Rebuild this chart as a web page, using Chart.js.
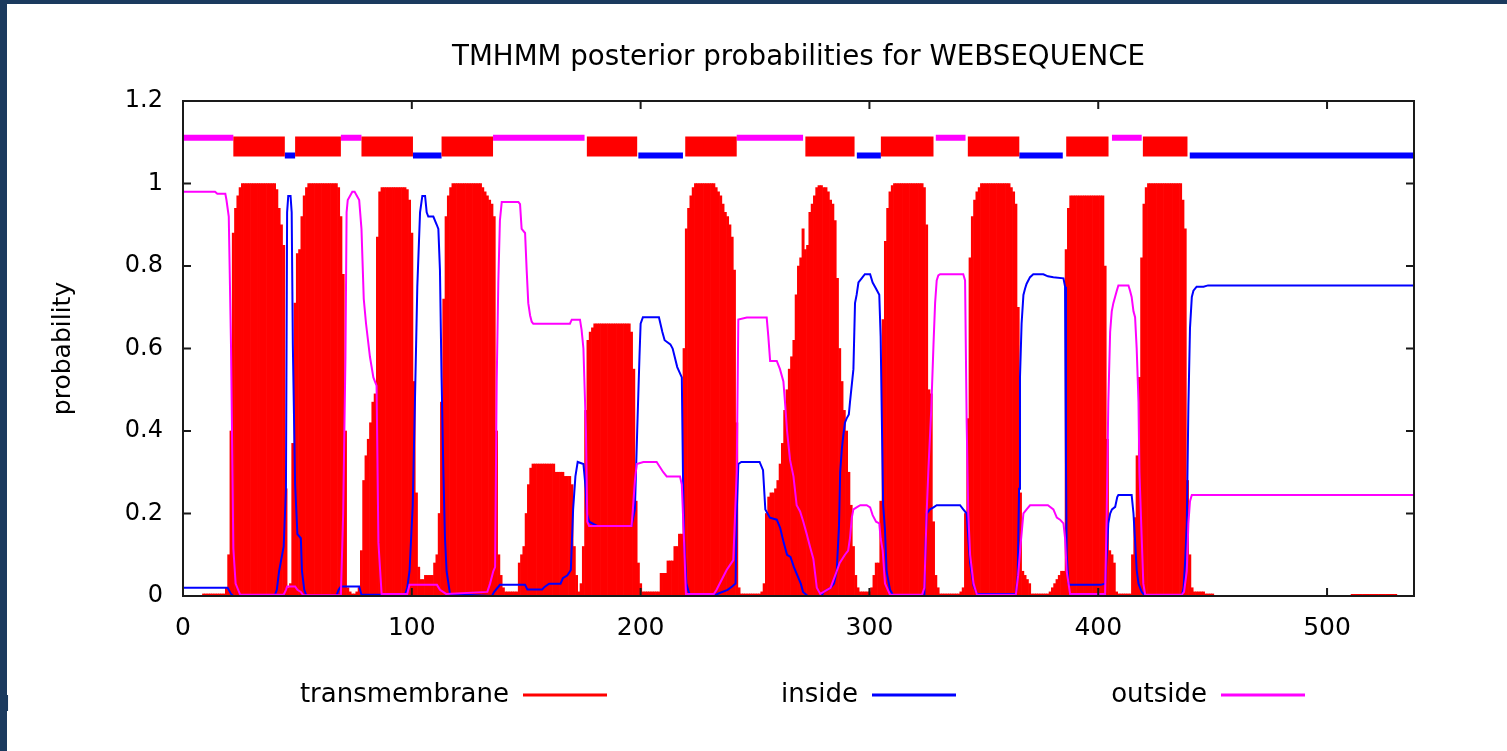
<!DOCTYPE html>
<html lang="en">
<head>
    <meta charset="UTF-8">
    <title>TMHMM posterior probabilities for WEBSEQUENCE</title>
    <script src="https://cdn.jsdelivr.net/npm/chart.js"></script>
    <style>
        html, body { margin: 0; padding: 0; background: #fff; }
        body { width: 1507px; height: 751px; position: relative; overflow: hidden; }
        #wrap { position: absolute; left: 0; top: 0; width: 1507px; height: 751px; }
        .edge { position: absolute; background: #1b3a5e; }
        .stray { position: absolute; left: 4px; top: 691px; font: 22px "DejaVu Sans", sans-serif; color: #1b3a5e; }
    </style>
</head>
<body>
    <div id="wrap"><canvas id="tmhmmChart" width="1507" height="751"></canvas></div>
    <div class="edge" style="left:0;top:0;width:7px;height:751px"></div>
    <div class="edge" style="left:0;top:0;width:1507px;height:4px"></div>
    <span class="stray">l</span>
    <script>
        // posterior probability of transmembrane, one value per residue (1..538)
        const tmProb = [
            0,0,0,0,0,0,0,0,.005,.005,.005,.005,.005,.005,.005,.005,.005,.005,.02,.1,
            .4,.88,.94,.97,.99,1,1,1,1,1,1,1,1,1,1,1,1,1,1,1,
            .985,.94,.9,.85,.26,.02,.03,.37,.71,.83,.84,.92,.97,.99,1,1,1,1,1,1,
            1,1,1,1,1,1,1,.99,.92,.78,.4,.02,.01,.005,.005,.01,.02,.11,.28,.34,
            .38,.42,.47,.49,.87,.98,.99,.99,.99,.99,.99,.99,.99,.99,.99,.99,.99,.985,.96,.88,
            .52,.25,.07,.04,.04,.05,.05,.05,.05,.08,.1,.2,.47,.72,.92,.97,.99,1,1,1,
            1,1,1,1,1,1,1,1,1,1,.99,.98,.97,.96,.95,.92,.4,.1,.05,.02,
            .01,.01,.01,.01,.01,.01,.08,.1,.12,.2,.27,.31,.32,.32,.32,.32,.32,.32,.32,.32,
            .32,.32,.3,.3,.3,.3,.29,.29,.29,.27,.12,.05,.01,.03,.12,.45,.62,.64,.65,.66,
            .66,.66,.66,.66,.66,.66,.66,.66,.66,.66,.66,.66,.66,.66,.66,.64,.55,.23,.08,.03,
            .01,.01,.01,.01,.01,.01,.01,.01,.055,.055,.055,.085,.085,.085,.12,.12,.15,.15,.6,.89,
            .94,.97,.99,1,1,1,1,1,1,1,1,1,.99,.98,.97,.95,.93,.92,.9,.87,
            .79,.42,.02,.005,.005,.005,.005,.005,.005,.005,.005,.005,.01,.03,.2,.24,.25,.25,.26,.28,
            .32,.37,.45,.5,.55,.58,.62,.73,.8,.82,.89,.84,.85,.93,.95,.97,.99,.995,.995,.99,
            .99,.98,.96,.95,.91,.77,.6,.52,.45,.4,.3,.22,.12,.05,.02,.01,.01,.01,.01,.01,
            .02,.05,.08,.08,.23,.67,.86,.94,.98,.995,1,1,1,1,1,1,1,1,1,1,
            1,1,1,.99,.9,.5,.49,.18,.05,.02,.005,.005,.005,.005,.005,.005,.005,.005,.005,.01,
            .02,.2,.43,.82,.92,.96,.98,.99,1,1,1,1,1,1,1,1,1,1,1,1,
            1,.99,.98,.95,.7,.25,.06,.05,.04,.03,.005,.005,.005,.005,.005,.005,.005,.005,.01,.02,
            .03,.04,.05,.06,.06,.84,.94,.97,.97,.97,.97,.97,.97,.97,.97,.97,.97,.97,.97,.97,
            .97,.97,.8,.38,.11,.1,.08,.01,.005,.005,.005,.005,.005,.005,.1,.19,.34,.53,.82,.95,
            .99,1,1,1,1,1,1,1,1,1,1,1,1,1,1,1,.96,.89,.28,.1,
            .02,.01,.01,.01,.01,.01,.005,.005,.005,.005,0,0,0,0,0,0,0,0,0,0,
            0,0,0,0,0,0,0,0,0,0,0,0,0,0,0,0,0,0,0,0,
            0,0,0,0,0,0,0,0,0,0,0,0,0,0,0,0,0,0,0,0,
            0,0,0,0,0,0,0,0,0,0,.004,.004,.004,.004,.004,.004,.004,.004,.004,.004,
            .004,.004,.004,.004,.004,.004,.004,.004,.004,.004,0,0,0,0,0,0,0,0
        ];

        // [residue, probability] for the inside curve
        const insideProb = [
            [0,.02],[19.5,.02],[21,.005],[22,0],[40,0],[41,.015],[42,.06],[44,.12],[45,.26],[45.5,.93],[46,.97],[47,.97],[47.5,.93],[48,.61],[49,.27],[50,.15],[51.5,.14],[52,.06],[53,.015],[54,0],
            [67,0],[68,.015],[69,.023],[77,.023],[78,.003],[97,.003],[98,.02],[99,.06],[100.4,.22],[101.4,.48],[102.4,.75],[103.6,.93],[104.6,.97],[105.8,.97],[106.5,.93],[107.2,.92],[109.4,.92],[110.9,.9],[111.6,.89],[112.3,.79],[113,.53],[113.8,.3],[114.5,.14],[115.2,.06],[116.7,.005],
            [135,0],[136,.01],[138.5,.027],[149.5,.027],[150.5,.016],[157,.016],[158,.022],[160,.03],[165,.03],[166,.043],[168,.05],[169.5,.063],[170.5,.21],[171.5,.29],[172.5,.325],[175,.32],[176,.26],[176.5,.2],[177.5,.18],[181,.17],[196,.17],[197.5,.21],[198.5,.4],[199.5,.58],[200,.66],[201,.676],[208,.676],[209.5,.64],[210.5,.62],[213,.61],[214,.6],[216,.555],[218,.53],[218.5,.3],[219,.14],[220,.03],[221,.01],[222,0],
            [232,0],[234,.006],[238,.015],[240,.023],[241.5,.03],[242,.2],[242.7,.32],[244,.325],[252,.325],[253.5,.305],[254.5,.21],[256.5,.19],[259.5,.185],[261,.165],[262.5,.13],[264,.1],[265.5,.095],[267,.07],[268.5,.05],[270,.03],[271,.01],[273,0],
            [279,0],[280,.01],[283,.02],[284.5,.03],[285.7,.06],[286.7,.17],[287.2,.3],[288,.36],[288.6,.39],[289.3,.42],[290,.43],[291,.44],[291.5,.47],[293,.55],[293.7,.71],[294.4,.73],[295.2,.76],[296.6,.77],[298,.78],[300.3,.78],[301.4,.76],[302.9,.745],[304.3,.73],[304.9,.63],[305.5,.4],[306,.22],[306.8,.16],[307.5,.06],[309,.015],[310.5,0],
            [324,0],[324.5,.12],[325,.2],[326.5,.21],[328,.215],[329.4,.22],[339.6,.22],[341,.21],[342.5,.2],[343.2,.14],[344,.08],[345.5,.025],[347,.005],
            [364,.005],[364.8,.05],[365.4,.26],[365.8,.53],[366.5,.66],[367.3,.73],[368,.745],[368.7,.757],[370.2,.773],[371.6,.78],[376,.78],[378,.775],[380.4,.773],[384.8,.77],[385.5,.75],[385.9,.32],[386.2,.1],[387,.03],[387.7,.027],
            [401,.027],[403,.03],[403.7,.1],[404.4,.176],[405.2,.2],[406,.21],[407.4,.216],[408.3,.24],[408.8,.245],[414.6,.245],[415.4,.2],[416.1,.135],[416.8,.063],[417.6,.03],[419,.01],[420.5,0],
            [436.5,0],[437.3,.02],[438,.087],[438.7,.176],[439.4,.46],[440.1,.65],[440.9,.725],[441.6,.74],[443,.75],[446,.75],[448,.753],[538,.753]
        ];

        // [residue, probability] for the outside curve
        const outsideProb = [
            [0,.98],[14,.98],[15,.975],[18.5,.975],[19,.96],[20,.92],[21,.6],[22,.115],[23,.03],[25,.003],[44,.003],[45,.015],[45.5,.023],[49,.023],[50,.015],[51.5,.01],[52.5,.002],
            [69,.002],[70,.2],[71,.58],[71.5,.93],[72,.96],[74,.98],[75,.98],[77,.96],[78,.89],[79,.72],[80,.66],[81.7,.58],[83.2,.53],[84.6,.51],[85.4,.13],[86.8,.005],
            [98,.005],[99,.027],[111,.027],[112.3,.015],[115,.005],[133,.01],[134.2,.03],[135.6,.06],[136.4,.07],[137.1,.52],[137.8,.76],[138.5,.91],[139.3,.955],[146.6,.955],[147.3,.95],[148,.89],[149.5,.88],[150.2,.79],[150.9,.71],[151.7,.68],[152.4,.665],[153.1,.66],[169.1,.66],[169.9,.67],[173.5,.67],[174.2,.645],[175,.6],[176.1,.4],[176.7,.18],[177.5,.17],[196,.17],[196.5,.2],[197.5,.28],[198.3,.32],[201.2,.325],[207,.325],[209.9,.3],[211.4,.29],[217.2,.29],[218,.27],[219,.13],[219.8,.005],
            [232,.005],[233.2,.015],[237.6,.063],[240.5,.087],[242,.3],[242.7,.67],[246.4,.675],[255.1,.675],[255.8,.63],[256.6,.57],[259.5,.57],[260.9,.55],[262.4,.52],[263.1,.47],[264,.4],[265.3,.33],[266.8,.29],[268.2,.22],[269.7,.205],[271.1,.18],[272.6,.15],[274,.12],[275.5,.09],[277,.02],[278.5,.005],
            [280,.01],[283,.02],[285.7,.06],[287,.08],[289.3,.1],[290.7,.11],[291.5,.14],[292.3,.19],[293,.21],[294.4,.215],[296,.22],[298.8,.22],[300.3,.215],[301.4,.196],[302.9,.18],[304.3,.176],[304.9,.14],[305.8,.11],[306.8,.03],[309,.003],
            [323,.003],[324,.02],[325,.2],[325.8,.31],[327,.45],[328,.61],[328.7,.71],[329.4,.765],[330.1,.777],[330.9,.78],[341,.78],[341.8,.765],[342.5,.42],[343.2,.2],[344,.1],[345.5,.03],[347,.003],
            [364,.003],[365,.05],[366,.12],[367.3,.2],[368.7,.21],[370.2,.22],[378,.22],[380.4,.21],[381.9,.19],[383.3,.185],[384.8,.176],[385.5,.14],[386.2,.06],[387.7,.005],
            [403,.005],[403.7,.2],[404.4,.47],[405.2,.64],[405.9,.69],[406.6,.71],[408.1,.74],[408.8,.753],[413.2,.753],[413.9,.74],[414.6,.725],[415.4,.69],[416.1,.676],[416.8,.6],[417.6,.47],[418,.3],[419,.14],[419.7,.03],[420.5,.003],
            [436.5,.003],[437.5,.01],[438.7,.06],[439.4,.176],[440.1,.23],[440.9,.245],[538,.245]
        ];

        // predicted topology, [start, end] residue
        const tmSegments = [[22,44.5],[49,69],[78,100.5],[113,135.5],[176.5,198.5],[219.5,242],[272,293.5],[305,328],[343,365.5],[386,404.5],[419.5,439]];
        const insideSegments = [[44.5,49],[100.5,113],[199,218.5],[294.5,305],[365.5,384.5],[440,538]];
        const outsideSegments = [[0,22],[69,78],[135.5,175.5],[242,271],[329,342],[406,419]];

        const seqLength = 538;
        const yTickLabels = ['0', '0.2', '0.4', '0.6', '0.8', '1', '1.2'];
        const seriesNames = ['transmembrane', 'inside', 'outside'];
        const chartTitle = 'TMHMM posterior probabilities for WEBSEQUENCE';

        const FONT = '"DejaVu Sans", sans-serif';
        const RED = '#ff0000', BLUE = '#0000ff', MAGENTA = '#ff00ff';

        // heights of the topology strip above the plot
        const OUT_LEVEL = 1.111, TM_LEVEL = 1.09, IN_LEVEL = 1.068;

        function strip(segs, level) {
            const pts = [];
            segs.forEach(([a, b]) => {
                pts.push({x: a, y: level}, {x: b, y: level}, {x: b, y: null});
            });
            return pts;
        }

        // box + inward tick marks like gnuplot, title centred over the plot
        const frame = {
            id: 'frame',
            afterDatasetsDraw(chart) {
                const {ctx, chartArea: a, scales: {x, y}} = chart;
                ctx.save();
                ctx.strokeStyle = '#1a1a1a';
                ctx.lineWidth = 2;
                ctx.strokeRect(a.left, a.top, a.right - a.left, a.bottom - a.top);
                ctx.beginPath();
                x.ticks.forEach(t => {
                    const px = x.getPixelForValue(t.value);
                    ctx.moveTo(px, a.bottom); ctx.lineTo(px, a.bottom - 8);
                    ctx.moveTo(px, a.top); ctx.lineTo(px, a.top + 8);
                });
                y.ticks.forEach(t => {
                    const py = y.getPixelForValue(t.value);
                    ctx.moveTo(a.left, py); ctx.lineTo(a.left + 8, py);
                    ctx.moveTo(a.right, py); ctx.lineTo(a.right - 8, py);
                });
                ctx.stroke();

                ctx.font = '27.7px ' + FONT;
                ctx.fillStyle = '#000';
                ctx.textAlign = 'center';
                ctx.textBaseline = 'middle';
                ctx.fillText(chartTitle, (a.left + a.right) / 2, 58);
                ctx.restore();
            }
        };

        // key below the plot: label then line sample
        const keyLegend = {
            id: 'keyLegend',
            afterDraw(chart) {
                const ctx = chart.ctx;
                ctx.save();
                ctx.font = '26px ' + FONT;
                ctx.fillStyle = '#000';
                ctx.textAlign = 'right';
                ctx.textBaseline = 'middle';
                ctx.lineWidth = 3;
                chart.data.datasets.slice(0, 3).forEach((ds, i) => {
                    const end = 607 + 349 * i;
                    const start = end - 84;
                    ctx.fillText(ds.label, start - 14, 695);
                    ctx.strokeStyle = ds.type === 'bar' ? ds.backgroundColor : ds.borderColor;
                    ctx.beginPath();
                    ctx.moveTo(start, 695);
                    ctx.lineTo(end, 695);
                    ctx.stroke();
                });
                ctx.restore();
            }
        };

        new Chart(document.getElementById('tmhmmChart'), {
            type: 'bar',
            data: {
                datasets: [
                    {
                        type: 'bar',
                        label: seriesNames[0],
                        data: tmProb.map((v, i) => ({x: i + 1, y: v})),
                        backgroundColor: RED,
                        borderWidth: 0,
                        barPercentage: 1,
                        categoryPercentage: 1,
                        order: 3
                    },
                    {
                        type: 'line',
                        label: seriesNames[1],
                        data: insideProb.map(([x, y]) => ({x, y})),
                        borderColor: BLUE,
                        borderWidth: 2,
                        pointRadius: 0,
                        tension: 0,
                        order: 2
                    },
                    {
                        type: 'line',
                        label: seriesNames[2],
                        data: outsideProb.map(([x, y]) => ({x, y})),
                        borderColor: MAGENTA,
                        borderWidth: 2,
                        pointRadius: 0,
                        tension: 0,
                        order: 1
                    },
                    {
                        type: 'line', label: 'tm strip', data: strip(tmSegments, TM_LEVEL),
                        borderColor: RED, borderWidth: 20, borderCapStyle: 'butt', pointRadius: 0, spanGaps: false, order: 0
                    },
                    {
                        type: 'line', label: 'inside strip', data: strip(insideSegments, IN_LEVEL),
                        borderColor: BLUE, borderWidth: 6, borderCapStyle: 'butt', pointRadius: 0, spanGaps: false, order: 0
                    },
                    {
                        type: 'line', label: 'outside strip', data: strip(outsideSegments, OUT_LEVEL),
                        borderColor: MAGENTA, borderWidth: 6, borderCapStyle: 'butt', pointRadius: 0, spanGaps: false, order: 0
                    }
                ]
            },
            options: {
                responsive: false,
                animation: false,
                events: [],
                layout: { padding: { left: 0, right: 93, top: 101, bottom: 0 } },
                plugins: {
                    legend: { display: false },
                    tooltip: { enabled: false },
                    title: { display: false }
                },
                scales: {
                    x: {
                        type: 'linear',
                        min: 0,
                        max: seqLength,
                        offset: false,
                        grid: { display: false, drawTicks: false },
                        border: { display: false },
                        ticks: {
                            stepSize: 100,
                            includeBounds: false,
                            autoSkip: false,
                            maxRotation: 0,
                            padding: 17,
                            color: '#000',
                            font: { family: FONT, size: 25 }
                        },
                        afterFit(s) { s.height = 155; }
                    },
                    y: {
                        min: 0,
                        max: 1.2,
                        grid: { display: false, drawTicks: false },
                        border: { display: false },
                        ticks: {
                            stepSize: 0.2,
                            padding: 20,
                            color: '#000',
                            font: { family: FONT, size: 24 },
                            callback: (v, i) => yTickLabels[i]
                        },
                        title: {
                            display: true,
                            text: 'probability',
                            color: '#000',
                            font: { family: FONT, size: 25 },
                            padding: { top: 48, bottom: 0 }
                        },
                        afterFit(s) { s.width = 183; }
                    }
                }
            },
            plugins: [frame, keyLegend]
        });
    </script>
</body>
</html>
